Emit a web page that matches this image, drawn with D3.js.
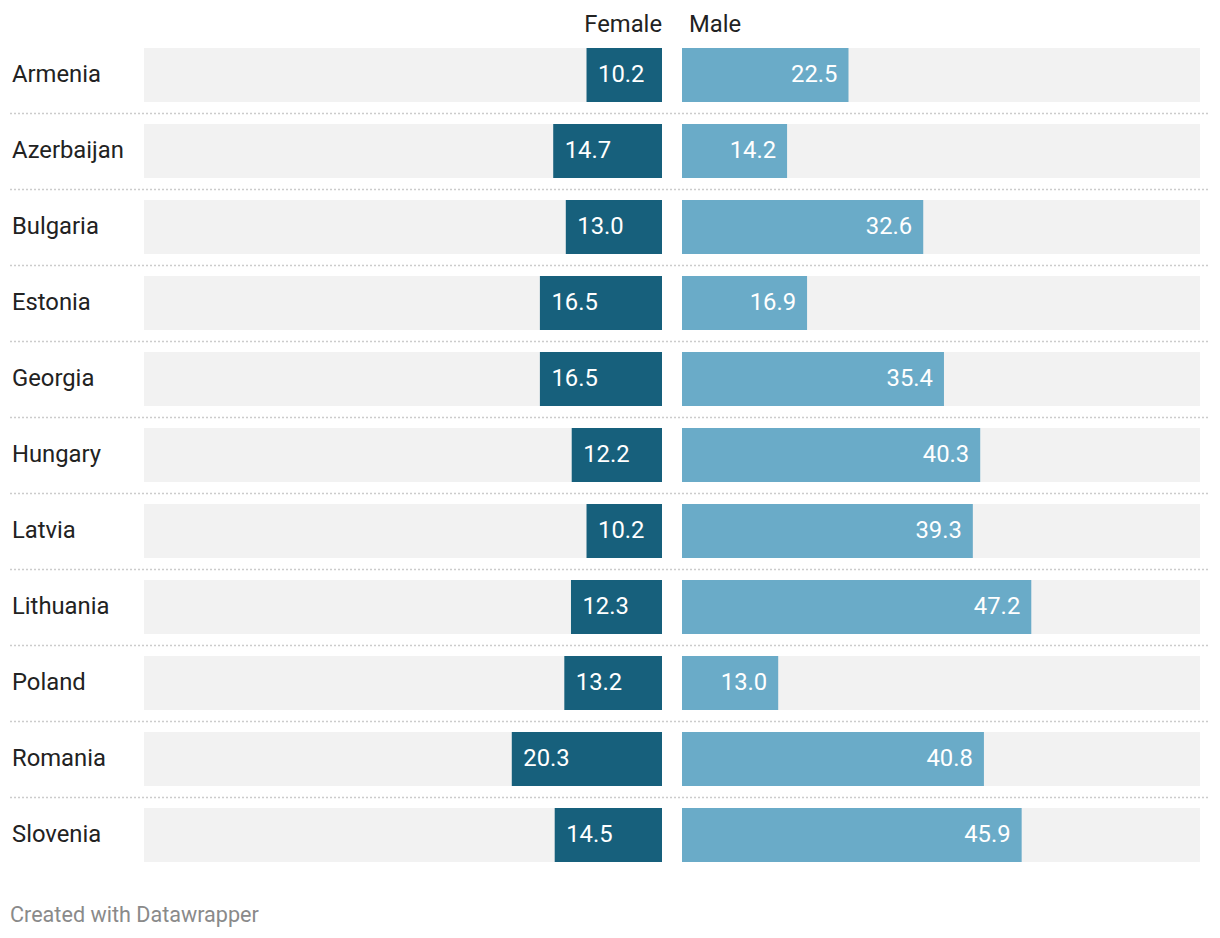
<!DOCTYPE html>
<html><head><meta charset="utf-8">
<script src="https://cdn.jsdelivr.net/npm/d3@7"></script>
<style>body{margin:0;background:#fff;font-family:Roboto,sans-serif;}</style>
</head><body><svg id="c" width="1220" height="938"></svg>
<script>
const countries = ["Armenia","Azerbaijan","Bulgaria","Estonia","Georgia","Hungary","Latvia","Lithuania","Poland","Romania","Slovenia"];
const female = [10.2,14.7,13.0,16.5,16.5,12.2,10.2,12.3,13.2,20.3,14.5];
const male = [22.5,14.2,32.6,16.9,35.4,40.3,39.3,47.2,13.0,40.8,45.9];
const seriesNames = ["Female","Male"];

const svg = d3.select("#c");
const fx = d3.scaleLinear().domain([0,70]).range([662,144]);
const mx = d3.scaleLinear().domain([0,70]).range([682,1200]);
const y2 = d3.scaleBand().domain(countries).range([37, 37+76*11]).padding(0);
const bh = 54;
const rowTop = c => y2(c)+11;
const FS = 23.8;

const fmt = d3.format(".1f");
const g = svg.append("g");
countries.forEach((c,i)=>{
  const t = rowTop(c);
  if(i>0) g.append("line").attr("x1",10).attr("x2",1208).attr("y1",t-11+0.5).attr("y2",t-11+0.5)
    .attr("stroke","#cccccc").attr("stroke-width",1.5).attr("stroke-dasharray","2,2");
  g.append("text").attr("x",12).attr("y",t+bh/2).attr("dy","0.31em").attr("font-size",FS).attr("fill","#222").text(c);
  g.append("rect").attr("x",fx(70)).attr("y",t).attr("width",fx(0)-fx(70)).attr("height",bh).attr("fill","#f2f2f2");
  g.append("rect").attr("x",mx(0)).attr("y",t).attr("width",mx(70)-mx(0)).attr("height",bh).attr("fill","#f2f2f2");
  g.append("rect").attr("x",fx(female[i])).attr("y",t).attr("width",fx(0)-fx(female[i])).attr("height",bh).attr("fill","#17607c");
  g.append("rect").attr("x",mx(0)).attr("y",t).attr("width",mx(male[i])-mx(0)).attr("height",bh).attr("fill","#6aabc8");
  g.append("text").attr("x",fx(female[i])+11.5).attr("y",t+bh/2).attr("dy","0.31em").attr("font-size",FS).attr("fill","#fff").text(fmt(female[i]));
  g.append("text").attr("x",mx(male[i])-11).attr("y",t+bh/2).attr("dy","0.31em").attr("text-anchor","end").attr("font-size",FS).attr("fill","#fff").text(fmt(male[i]));
});
svg.append("text").attr("x",662).attr("y",31.5).attr("text-anchor","end").attr("font-size",FS).attr("fill","#222").text(seriesNames[0]);
svg.append("text").attr("x",689).attr("y",31.5).attr("font-size",FS).attr("fill","#222").text(seriesNames[1]);
svg.append("text").attr("x",10).attr("y",922).attr("font-size",21.6).attr("fill","#8a8a8a").text("Created with Datawrapper");
</script></body></html>
